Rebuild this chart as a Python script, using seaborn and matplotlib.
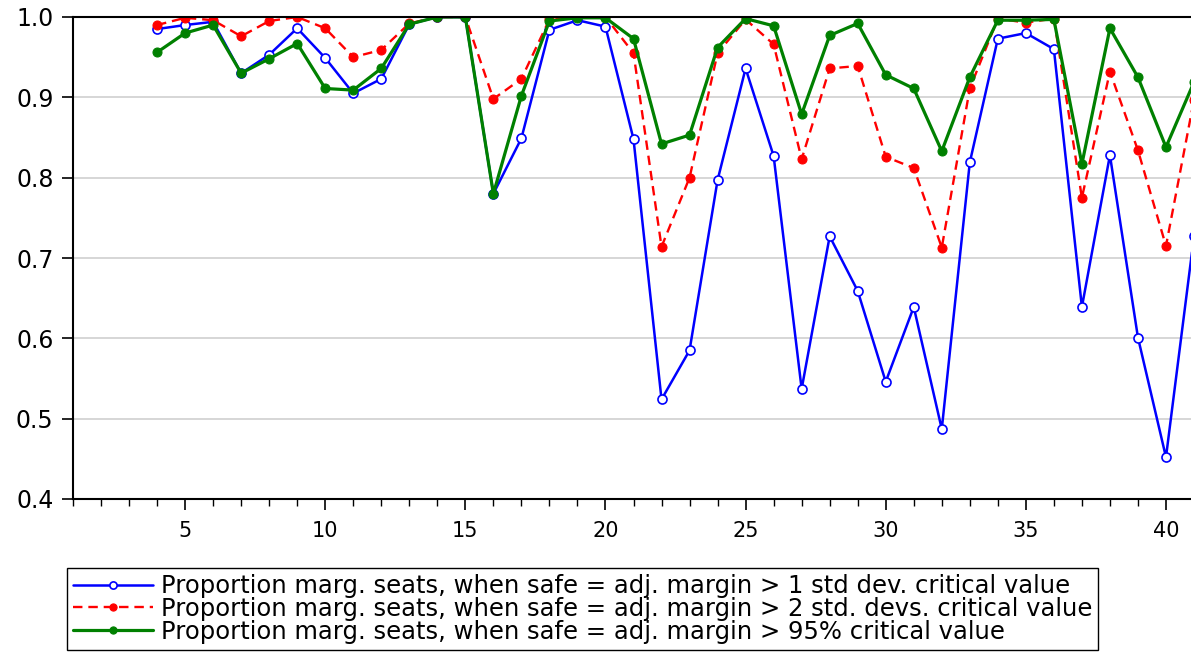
import matplotlib
matplotlib.use("Agg")
import matplotlib.pyplot as plt
import seaborn as sns
from matplotlib.ticker import MultipleLocator, FormatStrFormatter

# Valores (observações 4..41)
obs = list(range(4, 42))

prop_1sd = [0.985, 0.990, 0.994, 0.930, 0.953, 0.986, 0.949, 0.905, 0.923, 0.991,
            1.000, 1.000, 0.780, 0.849, 0.984, 0.996, 0.988, 0.848, 0.524, 0.585,
            0.797, 0.936, 0.827, 0.537, 0.727, 0.659, 0.546, 0.639, 0.487, 0.819,
            0.973, 0.980, 0.960, 0.639, 0.828, 0.601, 0.452, 0.727]

prop_2sd = [0.990, 0.999, 0.996, 0.976, 0.995, 1.000, 0.986, 0.950, 0.959, 0.992,
            1.000, 1.000, 0.898, 0.923, 0.997, 1.000, 1.000, 0.955, 0.714, 0.800,
            0.955, 0.997, 0.966, 0.823, 0.936, 0.939, 0.826, 0.812, 0.713, 0.911,
            0.998, 0.993, 0.998, 0.775, 0.932, 0.834, 0.715, 0.897]

prop_95 = [0.956, 0.980, 0.990, 0.930, 0.948, 0.967, 0.911, 0.909, 0.936, 0.991,
           1.000, 1.000, 0.780, 0.902, 0.995, 0.999, 0.999, 0.973, 0.842, 0.853,
           0.962, 0.998, 0.989, 0.879, 0.977, 0.992, 0.928, 0.911, 0.833, 0.925,
           0.996, 0.996, 0.997, 0.817, 0.986, 0.925, 0.838, 0.919]

labels = [
    "Proportion marg. seats, when safe = adj. margin > 1 std dev. critical value",
    "Proportion marg. seats, when safe = adj. margin > 2 std. devs. critical value",
    "Proportion marg. seats, when safe = adj. margin > 95% critical value",
]

sns.set_style("white")
plt.rcParams['font.family'] = ['DejaVu Sans']
plt.rcParams['text.color'] = 'black'
plt.rcParams['xtick.color'] = 'black'
plt.rcParams['ytick.color'] = 'black'

fig = plt.figure(figsize=(11.91, 6.55), dpi=100)
ax = fig.add_axes([73 / 1191, 156 / 655, 1121 / 1191, 482 / 655])

sns.lineplot(x=obs, y=prop_1sd, ax=ax, color='blue', linewidth=1.8,
             marker='o', markersize=6.5, markerfacecolor='white',
             markeredgecolor='blue', markeredgewidth=1.2, label=labels[0])
sns.lineplot(x=obs, y=prop_2sd, ax=ax, color='red', linewidth=1.7,
             linestyle=(0, (4, 2.5)), marker='o', markersize=6.5,
             markeredgecolor='red', label=labels[1])
sns.lineplot(x=obs, y=prop_95, ax=ax, color='green', linewidth=2.3,
             marker='o', markersize=6.5, markeredgecolor='green', label=labels[2])

ax.set_xlim(1, 41)
ax.set_ylim(0.4, 1.0)
ax.xaxis.set_major_locator(MultipleLocator(5))
ax.xaxis.set_minor_locator(MultipleLocator(1))
ax.yaxis.set_major_locator(MultipleLocator(0.1))
ax.yaxis.set_major_formatter(FormatStrFormatter('%.1f'))

ax.grid(axis='y', color='#d0d0d0', linewidth=1.2)
ax.grid(axis='x', visible=False)
ax.set_axisbelow(True)
for side in ['left', 'top', 'bottom']:
    ax.spines[side].set_color('black')
    ax.spines[side].set_linewidth(1.5)
ax.spines['right'].set_visible(False)

ax.tick_params(axis='x', which='major', direction='out', length=8, width=1.2,
               labelsize=15, pad=8, bottom=True)
ax.tick_params(axis='x', which='minor', direction='out', length=5, width=1.0,
               bottom=True)
ax.tick_params(axis='y', which='major', direction='out', length=8, width=1.2,
               labelsize=17, pad=6, left=True)

handles, lbls = ax.get_legend_handles_labels()
ax.get_legend().remove()
leg = fig.legend(handles, lbls, loc='upper left',
                 bbox_to_anchor=(67 / 1191, 1 - 568 / 655),
                 borderaxespad=0, frameon=True, fancybox=False,
                 edgecolor='black', framealpha=1, fontsize=17.5,
                 handlelength=3.3, handletextpad=0.3, labelspacing=-0.05,
                 borderpad=0.25, markerscale=0.8)
leg.get_frame().set_linewidth(1.0)

fig.savefig('out.png', dpi=100)
